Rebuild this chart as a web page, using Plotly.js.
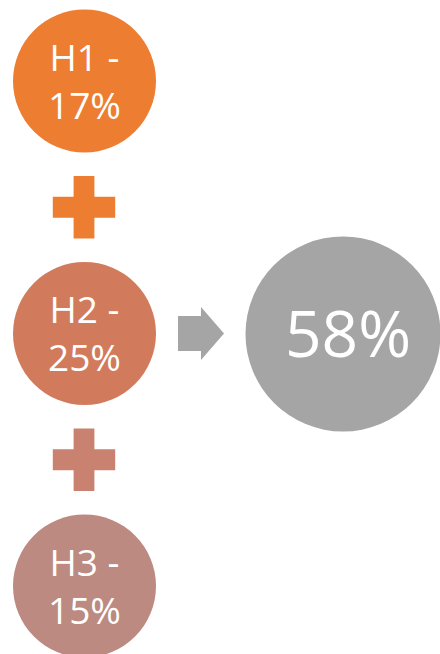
<!DOCTYPE html>
<html><head><meta charset="utf-8">
<script src="https://cdn.plot.ly/plotly-3.0.1.min.js"></script>
<style>html,body{margin:0;padding:0;background:#fff;overflow:hidden;}</style>
</head><body><div id="chart" style="width:440px;height:654px;"></div>
<script>
// ---- data ----
const halves = ["H1", "H2", "H3"];
const shares = [17, 25, 15];
const totalLabel = ["58%"];

// ---- styles ----
const halfColors = ["#ED7D31", "#D27B5C", "#BC8A80"];
const plusColors = ["#ED7D31", "#C8826F"];
const totalColor = "#A5A5A5";
const FONT = "'Open Sans', 'DejaVu Sans', sans-serif";

// ---- layout geometry (page pixels, used as axis units) ----
const W = 440, H = 654;
const colX = 84.5, rowY0 = 81, rowStep = 252.5;
const circleD = 143;
const plusD = 52;
const totalX = 343, totalY = 334, totalD = 195;
const midRow = 1;

const rowY = halves.map((_, i) => rowY0 + i * rowStep);
const plusY = rowY.slice(0, -1).map((y, i) => (y + rowY[i + 1]) / 2);

const traces = [
  {
    type: "scatter", mode: "markers",
    x: halves.map(() => colX), y: rowY,
    marker: { size: circleD, color: halfColors, line: { width: 0 } },
    hoverinfo: "skip"
  },
  {
    type: "scatter", mode: "markers",
    x: plusY.map(() => colX - 0.5), y: plusY,
    marker: { symbol: "cross", size: plusD, color: plusColors, line: { width: 0 } },
    hoverinfo: "skip"
  },
  {
    type: "scatter", mode: "markers",
    x: [totalX], y: [totalY],
    marker: { size: totalD, color: totalColor, line: { width: 0 } },
    hoverinfo: "skip"
  }
];

// block arrow between the middle circle and the total
const ay = rowY[midRow];
const ax0 = 178, axNeck = 201, axTip = 224, shaftH = 35, headH = 53;
const arrowPath = `M${ax0},${ay - shaftH / 2} H${axNeck} V${ay - headH / 2} L${axTip},${ay} L${axNeck},${ay + headH / 2} V${ay + shaftH / 2} H${ax0} Z`;

const annotations = halves.map((h, i) => ({
  x: colX, y: rowY[i] - 1, xref: "x", yref: "y",
  text: `${h} -<br>${shares[i]}%`,
  showarrow: false, xanchor: "center", yanchor: "middle", align: "center",
  font: { family: FONT, size: 37, color: "#FFFFFF" }
}));
annotations.push({
  x: totalX + 5, y: totalY - 2, xref: "x", yref: "y",
  text: totalLabel[0], showarrow: false, xanchor: "center", yanchor: "middle",
  font: { family: FONT, size: 64, color: "#FFFFFF" }
});

const layout = {
  width: W, height: H,
  margin: { l: 0, r: 0, t: 0, b: 0, pad: 0 },
  paper_bgcolor: "#FFFFFF", plot_bgcolor: "#FFFFFF",
  showlegend: false,
  xaxis: { range: [0, W], visible: false, fixedrange: true },
  yaxis: { range: [H, 0], visible: false, fixedrange: true },
  shapes: [{ type: "path", xref: "x", yref: "y", path: arrowPath, fillcolor: totalColor, line: { width: 0 }, layer: "above" }],
  annotations: annotations,
  hovermode: false
};

Plotly.newPlot("chart", traces, layout, { staticPlot: true, displayModeBar: false });
</script>
</body></html>
